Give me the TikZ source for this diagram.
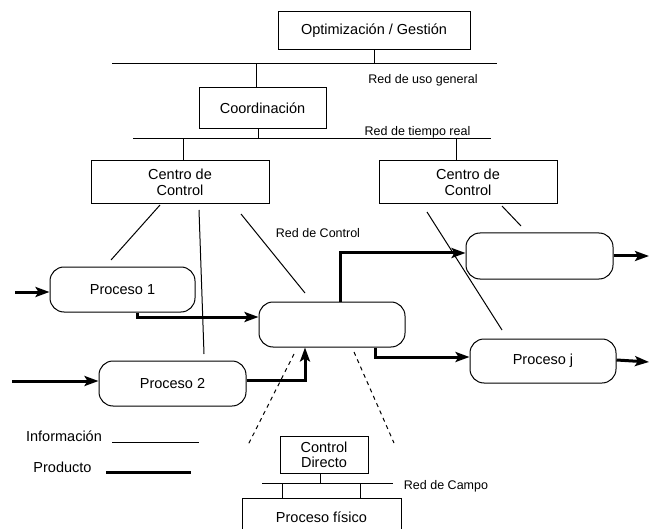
\documentclass[tikz,border=0pt]{standalone}
\usepackage{fontspec}
\setmainfont{Liberation Sans}
\usetikzlibrary{arrows.meta}
\begin{document}
\begin{tikzpicture}[x=1pt,y=-1pt,
  every node/.style={font=\fontsize{14.5}{16}\selectfont, align=center, inner sep=0pt},
  box/.style={draw, line width=1pt},
  rbox/.style={draw, line width=1pt, rounded corners=14pt},
  small/.style={font=\fontsize{12.5}{14}\selectfont},
  info/.style={line width=1pt},
  prod/.style={line width=3pt, -{Stealth[length=14pt,width=10pt,inset=3pt]}},
  dsh/.style={line width=1pt, dash pattern=on 4pt off 4pt}]
\clip (0,0) rectangle (650,529);
\fill[white] (0,0) rectangle (650,529);
% boxes
\node[box, minimum width=192pt, minimum height=38pt] (opt) at (374,31) {Optimización / Gestión};
\node[box, minimum width=127pt, minimum height=41pt] (coord) at (262.5,108.5) {Coordinación};
\node[box, minimum width=178pt, minimum height=43pt] (cc1) at (180,182.5) {Centro de\\Control};
\node[box, minimum width=178pt, minimum height=43pt] (cc2) at (468,182.5) {Centro de\\Control};
\node[rbox, minimum width=145pt, minimum height=45pt] (p1) at (122.5,289.5) {Proceso 1};
\node[rbox, minimum width=146pt, minimum height=45pt] (mid) at (332,324.5) {};
\node[rbox, minimum width=147pt, minimum height=45pt] (p2) at (172.5,383.5) {Proceso 2};
\node[rbox, minimum width=147pt, minimum height=46pt] (ur) at (539.5,256) {};
\node[rbox, minimum width=146pt, minimum height=44pt] (pj) at (543,361) {Proceso j};
\node[box, minimum width=88pt, minimum height=37pt] (cd) at (324,454.5) {Control\\[-1pt]Directo};
\node[box, minimum width=159pt, minimum height=38pt] (pf) at (321.5,517) {Proceso físico};
% labels
\node[small] (l1) at (423,80) {Red de uso general};
\node[small] (l2) at (417.5,132) {Red de tiempo real};
\node[small] (l3) at (318,233) {Red de Control};
\node[small] (l4) at (446,486) {Red de Campo};
\node (linfo) at (64,436) {Información};
\node (lprod) at (62.5,467) {Producto};
% buses
\coordinate (b1L) at (112,64); \coordinate (b1R) at (497,64);
\coordinate (b2L) at (133,139); \coordinate (b2R) at (491,139);
\coordinate (b3L) at (262,483); \coordinate (b3R) at (393,483);
\draw[info] (b1L) -- (b1R);
\draw[info] (b2L) -- (b2R);
\draw[info] (b3L) -- (b3R);
\draw[info] (opt.south) -- (opt.south |- b1L);
\draw[info] ([xshift=-6pt]coord.north) -- ([xshift=-6pt]coord.north |- b1L);
\draw[info] ([xshift=-4pt]coord.south) -- ([xshift=-4pt]coord.south |- b2L);
\draw[info] ([xshift=3pt]cc1.north) -- ([xshift=3pt]cc1.north |- b2L);
\draw[info] ([xshift=-12pt]cc2.north) -- ([xshift=-12pt]cc2.north |- b2L);
\draw[info] ([xshift=-4pt]cd.south) -- ([xshift=-4pt]cd.south |- b3L);
\draw[info] (pf.north -| 282,0) -- (b3L -| 282,0);
\draw[info] (pf.north -| 360,0) -- (b3L -| 360,0);
% control lines
\coordinate (a1s) at (160,205); \coordinate (a1e) at (111,260);
\coordinate (a2s) at (199,210); \coordinate (a2e) at (204,354);
\coordinate (a3s) at (241,214); \coordinate (a3e) at (305,293);
\coordinate (a4s) at (427,212); \coordinate (a4e) at (502,330);
\coordinate (a5s) at (502,206); \coordinate (a5e) at (521,226);
\draw[info] (a1s) -- (a1e);
\draw[info] (a2s) -- (a2e);
\draw[info] (a3s) -- (a3e);
\draw[info] (a4s) -- (a4e);
\draw[info] (a5s) -- (a5e);
% dashed
\coordinate (d1s) at (294,354); \coordinate (d1e) at (248,445);
\coordinate (d2s) at (354,352); \coordinate (d2e) at (394,443);
\draw[dsh] (d1s) -- (d1e);
\draw[dsh] (d2s) -- (d2e);
% product arrows
\coordinate (in1) at (15,292);
\coordinate (in2) at (12,381);
\coordinate (out1) at (649,256);
\coordinate (out2) at (649,362);
\draw[prod] (in1) -- (in1 -| p1.west);
\draw[prod] (in2) -- (in2 -| p2.west);
\draw[prod] ([xshift=14.5pt]p1.south) |- ([yshift=7.5pt]mid.west);
\draw[prod] ([yshift=3.5pt]p2.east) -| ([xshift=-27pt]mid.south);
\draw[prod] ([xshift=8pt]mid.north) |- ([yshift=3pt]ur.west);
\draw[prod] ([xshift=43pt]mid.south) |- ([yshift=4pt]pj.west);
\draw[prod] (ur.east) -- (out1);
\draw[prod] ([yshift=1pt]pj.east) -- (out2);
% legend
\coordinate (gi1) at (112,442); \coordinate (gi2) at (199,442);
\coordinate (gp1) at (106,472); \coordinate (gp2) at (191,472);
\draw[info] (gi1) -- (gi2);
\draw[line width=3pt] (gp1) -- (gp2);
\end{tikzpicture}
\end{document}
